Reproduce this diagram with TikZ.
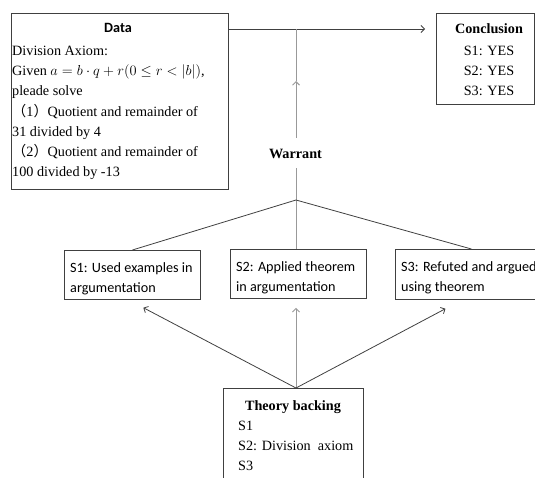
\documentclass[tikz,border=0pt]{standalone}
\usepackage{fontspec}
\setmainfont{Liberation Serif}
\newfontfamily\calfont{Carlito}
\newfontfamily\cjkfont{Noto Sans CJK SC}
\usetikzlibrary{arrows.meta,calc}
\begin{document}
\begin{tikzpicture}[x=1pt,y=-1pt,
  box/.style={draw=black!75, line width=0.8pt, inner sep=0pt, anchor=north west},
  txt/.style={font=\fontsize{14.2}{20}\selectfont, inner sep=0pt, anchor=base west},
  ttl/.style={font=\fontsize{14.2}{20}\selectfont\bfseries, inner sep=0pt, anchor=base},
  ctr/.style={font=\fontsize{14.2}{20}\selectfont, inner sep=0pt, anchor=base},
  stxt/.style={font=\calfont\fontsize{14.2}{20}\selectfont, inner sep=0pt, anchor=base west},
  dark/.style={draw=black!75, line width=0.8pt},
  grey/.style={draw=black!40, line width=1pt},
  tip/.style={-{Straight Barb[length=3.5pt,width=7pt]}}
]
\useasboundingbox (0,0) rectangle (535,477);
\clip (0,0) rectangle (535,477);

% boxes
\node[box, minimum width=217pt, minimum height=176pt] (data) at (11,13) {};
\node[box, minimum width=98pt, minimum height=91pt] (concl) at (436,13) {};
\node[box, minimum width=136pt, minimum height=49pt] (s1) at (64,250) {};
\node[box, minimum width=136pt, minimum height=49pt] (s2) at (230,249) {};
\node[box, minimum width=152pt, minimum height=50pt] (s3) at (395,249) {};
\node[box, minimum width=140pt, minimum height=100pt] (back) at (223,388) {};

% data
\node[ttl, font=\calfont\fontsize{14.2}{20}\selectfont\bfseries] (dtitle) at (118,32) {Data};
\node[txt] (d1) at (12,55) {Division Axiom:};
\node[txt] (d2) at (12,75.3) {Given $a = b\cdot q + r(0 \le r < |b|)$,};
\node[txt] (d3) at (12,95.6) {pleade solve};
\node[txt] (d4) at (12,116) {{\cjkfont （}1{\cjkfont ）}Quotient and remainder of};
\node[txt] (d5) at (12,136.2) {31 divided by 4};
\node[txt] (d6) at (12,156.5) {{\cjkfont （}2{\cjkfont ）}Quotient and remainder of};
\node[txt] (d7) at (12,176.8) {100 divided by -13};

% conclusion
\node[ttl] (ctitle) at (489,33) {Conclusion};
\node[ctr] (c1) at (489,55) {S1: YES};
\node[ctr] (c2) at (489,75) {S2: YES};
\node[ctr] (c3) at (489,95) {S3: YES};

% warrant
\node[ttl] (warrant) at (295.5,158) {Warrant};

% strategies
\node[stxt] (s1a) at (70,272) {S1: Used examples in};
\node[stxt] (s1b) at (70,292) {argumentation};
\node[stxt] (s2a) at (236,271) {S2: Applied theorem};
\node[stxt] (s2b) at (236,291) {in argumentation};
\node[stxt] (s3a) at (401,271) {S3: Refuted and argued};
\node[stxt] (s3b) at (401,291) {using theorem};

% backing
\node[ttl] (btitle) at (293,410) {Theory backing};
\node[txt] (b1) at (238,430) {S1};
\node[txt] (b2) at (238,450) {S2: Division\ \ axiom};
\node[txt] (b3) at (238,470) {S3};

% connector points
\coordinate (dout) at (228,29);
\coordinate (junc) at (296,29);
\coordinate (mid) at (296,81);
\coordinate (apex) at (296,200);
\coordinate (bapex) at (296,388);

% data -> conclusion
\draw[dark, tip, shorten >=11pt] (dout) -- (concl.west |- dout);

% warrant line
\draw[grey] (apex) -- ([yshift=-10pt]warrant.south -| apex);
\draw[grey, tip] ([yshift=11pt]warrant.north -| apex) -- (mid);
\draw[grey] (mid) -- (junc);

% strategies -> warrant
\draw[dark] (apex) -- (s1.north);
\draw[grey] (apex) -- (apex |- s2.north);
\draw[dark] (apex) -- (s3.north);

% backing -> strategies
\draw[dark, tip, shorten >=17pt] (bapex) -- ($(s1.south west)!0.47!(s1.south east)$);
\draw[grey, tip, shorten >=9pt] (bapex) -- (bapex |- s2.south);
\draw[dark, tip, shorten >=19pt] (bapex) -- ($(s3.south west)!0.44!(s3.south east)$);
\end{tikzpicture}
\end{document}
